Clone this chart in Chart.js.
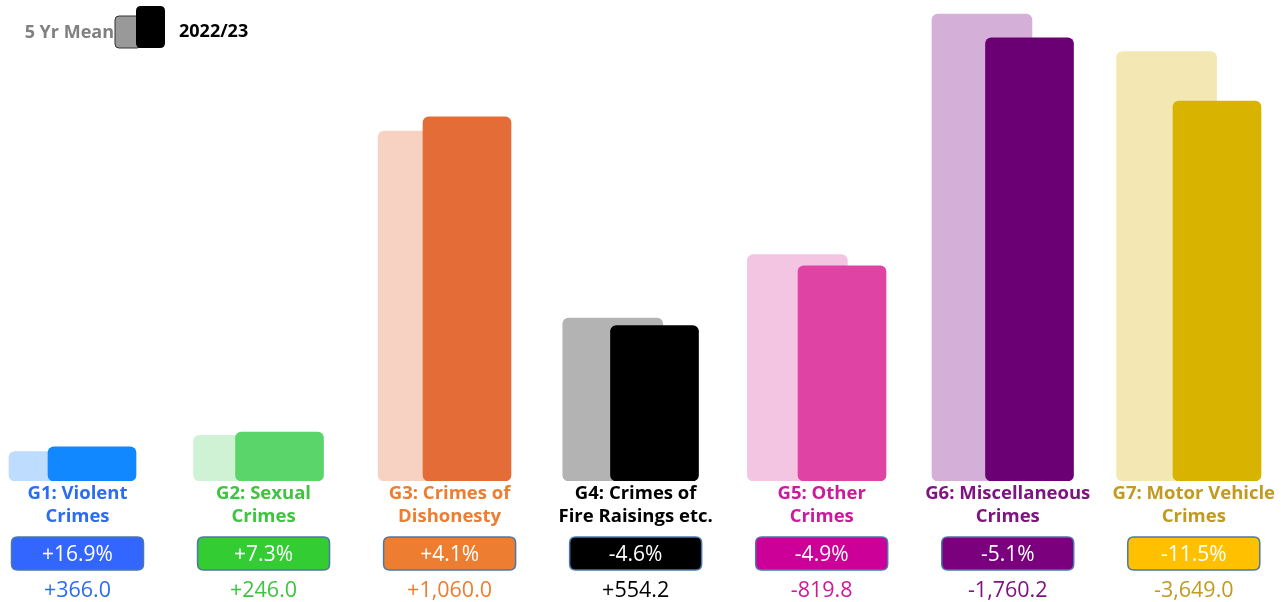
<!DOCTYPE html>
<html>
<head>
<meta charset="utf-8">
<script src="https://cdn.jsdelivr.net/npm/chart.js@4/dist/chart.umd.min.js"></script>
<style>
  html, body { margin: 0; padding: 0; background: #fff; }
  #wrap { width: 1286px; height: 602px; position: relative; }
</style>
</head>
<body>
<div id="wrap"><canvas id="crimeChart"></canvas></div>
<script>
const categories = [
  ["G1: Violent", "Crimes"],
  ["G2: Sexual", "Crimes"],
  ["G3: Crimes of", "Dishonesty"],
  ["G4: Crimes of", "Fire Raisings etc."],
  ["G5: Other", "Crimes"],
  ["G6: Miscellaneous", "Crimes"],
  ["G7: Motor Vehicle", "Crimes"],
];
const fiveYearMean = [2166, 3370, 25854, 12048, 16731, 34514, 31730];
const year2022 = [2532, 3616, 26914, 11494, 15911, 32754, 28081];
const pctChange = ["+16.9%", "+7.3%", "+4.1%", "-4.6%", "-4.9%", "-5.1%", "-11.5%"];
const diffValues = ["+366.0", "+246.0", "+1,060.0", "+554.2", "-819.8", "-1,760.2", "-3,649.0"];

const lightColors = ["#BDDCFE", "#CFF2D5", "#F7D1C2", "#B3B3B3", "#F4C5E3", "#D4B0D8", "#F3E7B3"];
const darkColors = ["#1188FF", "#5AD56A", "#E46C37", "#000000", "#DF44A5", "#6A0073", "#D8B300"];
const textColors = ["#2C6CF0", "#3EC43E", "#ED7D31", "#000000", "#CC1A9C", "#7E1480", "#C29A20"];
const boxColors = ["#3366FF", "#33CC33", "#ED7D31", "#000000", "#CC0099", "#7A007E", "#FFC000"];

const FONT = "'Open Sans', 'Liberation Sans', sans-serif";

function roundRect(ctx, x, y, w, h, r) {
  ctx.beginPath();
  ctx.moveTo(x + r, y);
  ctx.lineTo(x + w - r, y);
  ctx.quadraticCurveTo(x + w, y, x + w, y + r);
  ctx.lineTo(x + w, y + h - r);
  ctx.quadraticCurveTo(x + w, y + h, x + w - r, y + h);
  ctx.lineTo(x + r, y + h);
  ctx.quadraticCurveTo(x, y + h, x, y + h - r);
  ctx.lineTo(x, y + r);
  ctx.quadraticCurveTo(x, y, x + r, y);
  ctx.closePath();
}

const labelsPlugin = {
  id: "groupLabels",
  afterDraw(chart) {
    const ctx = chart.ctx;
    const xLight = chart.scales.xMean;
    const xDark = chart.scales.xYear;
    ctx.save();
    ctx.textAlign = "center";
    ctx.textBaseline = "middle";

    categories.forEach((lines, i) => {
      const cx = (xLight.getPixelForValue(i) + xDark.getPixelForValue(i)) / 2 + 2;

      ctx.fillStyle = textColors[i];
      ctx.font = "bold 18.5px " + FONT;
      ctx.fillText(lines[0], cx, 494);
      ctx.fillText(lines[1], cx, 517);

      roundRect(ctx, cx - 66, 537, 132, 33, 6);
      ctx.fillStyle = boxColors[i];
      ctx.fill();
      ctx.lineWidth = 1.5;
      ctx.strokeStyle = "#4A78A8";
      ctx.stroke();

      ctx.fillStyle = "#ffffff";
      ctx.font = "21px " + FONT;
      ctx.fillText(pctChange[i], cx, 555);

      ctx.fillStyle = textColors[i];
      ctx.font = "21.5px " + FONT;
      ctx.fillText(diffValues[i], cx, 591);
    });

    // legend
    ctx.font = "bold 18px " + FONT;
    ctx.textAlign = "right";
    ctx.fillStyle = "#808080";
    ctx.fillText("5 Yr Mean", 114, 33);
    roundRect(ctx, 115, 16, 26, 32, 4);
    ctx.fillStyle = "#999999";
    ctx.fill();
    ctx.lineWidth = 1;
    ctx.strokeStyle = "#333333";
    ctx.stroke();
    roundRect(ctx, 136, 6, 29, 42, 5);
    ctx.fillStyle = "#000000";
    ctx.fill();
    ctx.textAlign = "left";
    ctx.fillStyle = "#000000";
    ctx.fillText("2022/23", 179, 32);
    ctx.restore();
  },
};

new Chart(document.getElementById("crimeChart"), {
  type: "bar",
  data: {
    datasets: [
      {
        label: "2022/23",
        data: year2022.map((v, i) => ({ x: i, y: v })),
        backgroundColor: darkColors,
        xAxisID: "xYear",
        barThickness: 88,
        borderRadius: 6,
        borderSkipped: false,
        order: 0,
      },
      {
        label: "5 Yr Mean",
        data: fiveYearMean.map((v, i) => ({ x: i, y: v })),
        backgroundColor: lightColors,
        xAxisID: "xMean",
        barThickness: 100,
        borderRadius: 6,
        borderSkipped: false,
        order: 1,
      },
    ],
  },
  options: {
    responsive: true,
    maintainAspectRatio: false,
    animation: false,
    grouped: false,
    layout: {
      padding: { top: 0, bottom: 121, left: 0, right: 0 },
    },
    scales: {
      xMean: {
        type: "linear",
        display: false,
        offset: false,
        min: -0.3196,
        max: 6.647,
      },
      xYear: {
        type: "linear",
        display: false,
        offset: false,
        min: -0.4907,
        max: 6.368,
      },
      y: {
        display: false,
        min: 0,
        max: 35550,
      },
    },
    plugins: {
      legend: { display: false },
      tooltip: { enabled: false },
    },
  },
  plugins: [labelsPlugin],
});
</script>
</body>
</html>
